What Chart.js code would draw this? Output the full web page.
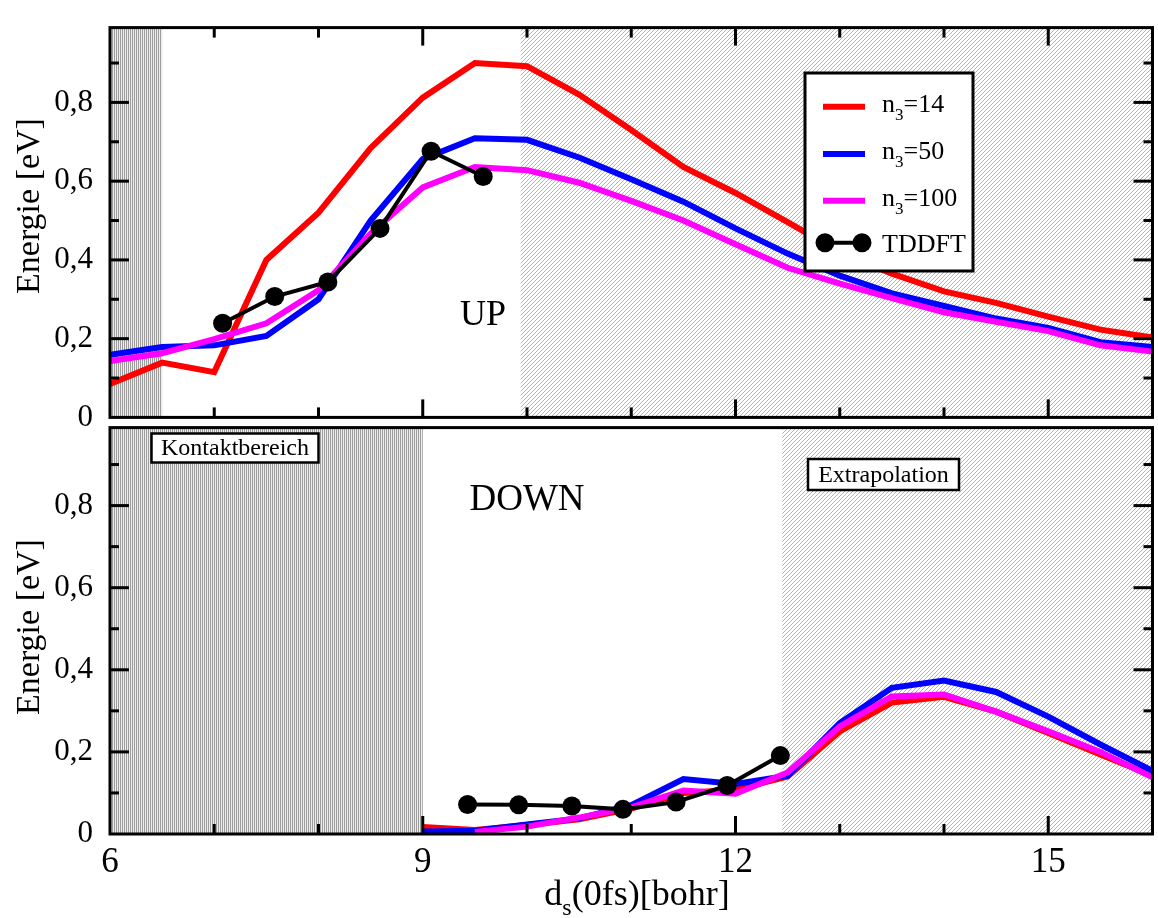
<!DOCTYPE html>
<html><head><meta charset="utf-8">
<script src="https://cdn.jsdelivr.net/npm/chart.js@4.4.1/dist/chart.umd.min.js"></script>
<style>
html,body{margin:0;padding:0;background:#fff;overflow:hidden;width:1158px;height:918px;}
#wrap{position:relative;width:1158px;height:918px;overflow:hidden;background:#fff;}
canvas{position:absolute;left:0;}
#c1{top:0;}
#c2{top:400px;}
#pre{position:absolute;left:-2000px;top:0;font-family:'Liberation Serif';font-size:30px;}
</style></head><body><div id="wrap"><canvas id="c1" width="1162" height="445"></canvas><canvas id="c2" width="1162" height="518"></canvas>
<span id="pre">Energie 0,8 Kontaktbereich</span></div>
<script>
// ---------- data ----------
const upX = [6,6.5,7,7.5,8,8.5,9,9.5,10,10.5,11,11.5,12,12.5,13,13.5,14,14.5,15,15.5,16];
const upN14  = [0.085,0.139,0.115,0.40,0.52,0.684,0.812,0.90,0.892,0.82,0.73,0.636,0.57,0.496,0.42,0.365,0.32,0.291,0.256,0.223,0.203];
const upN50  = [0.159,0.179,0.183,0.207,0.30,0.50,0.656,0.709,0.705,0.66,0.605,0.548,0.48,0.416,0.36,0.315,0.283,0.251,0.227,0.191,0.179];
const upN100 = [0.143,0.163,0.199,0.239,0.323,0.467,0.584,0.636,0.628,0.596,0.55,0.50,0.44,0.38,0.34,0.303,0.267,0.243,0.219,0.183,0.167];
const upTddftX = [7.08,7.58,8.09,8.59,9.08,9.58];
const upTddftY = [0.239,0.307,0.344,0.48,0.676,0.612];

const downX = [9,9.5,10,10.5,11,11.5,12,12.5,13,13.5,14,14.5,15,15.5,16];
const downN14  = [0.017,0.010,0.022,0.036,0.062,0.100,0.108,0.140,0.250,0.320,0.334,0.298,0.246,0.194,0.142];
const downN50  = [0.006,0.008,0.023,0.038,0.070,0.134,0.122,0.142,0.270,0.356,0.374,0.346,0.286,0.218,0.154];
const downN100 = [null,0.005,0.018,0.040,0.065,0.106,0.098,0.150,0.262,0.335,0.340,0.298,0.250,0.200,0.138];
const downTddftX = [9.43,9.92,10.43,10.92,11.43,11.92,12.43];
const downTddftY = [0.072,0.071,0.068,0.060,0.078,0.118,0.191];

const seriesNames = ['n3=14','n3=50','n3=100','TDDFT'];
const xTickLabels = ['6','9','12','15'];
const xTickValues = [6,9,12,15];
const yTickValues = [0,0.2,0.4,0.6,0.8];
const yTickLabels = ['0','0,2','0,4','0,6','0,8'];
const yTitle = 'Energie [eV]';
const upShadeVert = [6,6.5], upShadeDiag = [9.94,16];
const downShadeVert = [6,9], downShadeDiag = [12.45,16];

// ---------- helpers ----------
const SERIF = "'Liberation Serif'";
const pts = (xs, ys) => xs.map((x,i)=>({x, y: ys[i]}));

function vPattern(ctx){
  const c=document.createElement('canvas'); c.width=2; c.height=2;
  const g=c.getContext('2d'); g.fillStyle='#eeeeee'; g.fillRect(0,0,2,2);
  g.fillStyle='#9c9c9c'; g.fillRect(0,0,1,2);
  return ctx.createPattern(c,'repeat');
}
function dPattern(ctx){
  const c=document.createElement('canvas'); c.width=4; c.height=4;
  const g=c.getContext('2d'); g.fillStyle='#ffffff'; g.fillRect(0,0,4,4);
  g.fillStyle='#b4b4b4'; for(let i=0;i<4;i++) g.fillRect(i,3-i,1,1);
  return ctx.createPattern(c,'repeat');
}

function curve(data, color, order){
  return {data, borderColor:color, backgroundColor:color, borderWidth:6, pointRadius:0, pointHoverRadius:0,
          fill:false, tension:0, order, spanGaps:false, clip:0};
}
function tddft(data){
  return {data, borderColor:'#000', backgroundColor:'#000', borderWidth:4, pointRadius:9.5,
          pointBackgroundColor:'#000', pointBorderWidth:0, pointHoverRadius:9.5, fill:false, tension:0, order:1, clip:false};
}

const shadePlugin = {
  id:'shade',
  beforeDatasetsDraw(chart, args, opts){
    const {ctx, chartArea:a, scales:{x}} = chart;
    ctx.save();
    const fill=(r,p)=>{ const p0=Math.max(a.left,x.getPixelForValue(r[0])), p1=Math.min(a.right,x.getPixelForValue(r[1]));
      ctx.fillStyle=p; ctx.fillRect(p0,a.top,p1-p0,a.bottom-a.top); };
    fill(opts.vert, vPattern(ctx));
    fill(opts.diag, dPattern(ctx));
    ctx.restore();
  }
};

const framePlugin = {
  id:'frame',
  afterDraw(chart, args, opts){
    const {ctx, chartArea:a, scales:{x,y}} = chart;
    ctx.save();
    ctx.strokeStyle='#000'; ctx.lineWidth=3; ctx.lineCap='butt';
    const ln=(x0,y0,x1,y1)=>{ctx.beginPath();ctx.moveTo(x0,y0);ctx.lineTo(x1,y1);ctx.stroke();};
    for(let k=7;k<=15;k++){
      const px=x.getPixelForValue(k); const L=(k%3===0)?18:10;
      ln(px,a.bottom,px,a.bottom-L);
      if(opts.top) ln(px,a.top,px,a.top+L);
    }
    for(let k=1;k<=9;k++){
      const py=y.getPixelForValue(k/10); const L=(k%2===0)?19:9;
      ln(a.left,py,a.left+L,py); ln(a.right,py,a.right-L,py);
    }
    ctx.strokeRect(a.left,a.top,a.right-a.left,a.bottom-a.top);
    if (opts.titleY) {
      ctx.fillStyle='#000'; ctx.font='34px '+SERIF; ctx.textAlign='center'; ctx.textBaseline='middle';
      ctx.translate(30, opts.titleY); ctx.rotate(-Math.PI/2); ctx.fillText(yTitle,0,0);
    }
    ctx.restore();
  }
};

function subText(ctx, parts, x, y, align){
  let w=0; parts.forEach(p=>{ctx.font=p[1]+'px '+SERIF; w+=ctx.measureText(p[0]).width;});
  let cx = align==='center' ? x-w/2 : x;
  ctx.textAlign='left'; ctx.textBaseline='alphabetic';
  parts.forEach(p=>{ctx.font=p[1]+'px '+SERIF; ctx.fillText(p[0],cx,y+p[2]); cx+=ctx.measureText(p[0]).width;});
}

function boxLabel(ctx, text, left, top, w, h, size){
  ctx.fillStyle='#fff'; ctx.fillRect(left,top,w,h);
  ctx.strokeStyle='#000'; ctx.lineWidth=2.5; ctx.strokeRect(left,top,w,h);
  ctx.fillStyle='#000'; ctx.font=size+'px '+SERIF; ctx.textAlign='center'; ctx.textBaseline='middle';
  ctx.fillText(text,left+w/2,top+h/2+1);
}

const upTextPlugin = {
  id:'upText',
  afterDatasetsDraw(chart){
    const ctx=chart.ctx; ctx.save();
    ctx.fillStyle='#000'; ctx.font='36px '+SERIF; ctx.textAlign='center'; ctx.textBaseline='alphabetic';
    ctx.fillText('UP',483,325);
    const L=805,T=73,R=973,B=271;
    ctx.fillStyle='#fff'; ctx.fillRect(L,T,R-L,B-T);
    ctx.strokeStyle='#000'; ctx.lineWidth=3; ctx.strokeRect(L,T,R-L,B-T);
    const ds=chart.data.datasets;
    const rows=[106.7,154,200.7,242.7];
    for(let i=0;i<3;i++){
      ctx.strokeStyle=ds[i].borderColor; ctx.lineWidth=6; ctx.beginPath(); ctx.moveTo(823,rows[i]); ctx.lineTo(865,rows[i]); ctx.stroke();
      ctx.fillStyle='#000';
      const nm=seriesNames[i];
      subText(ctx,[['n',26,0],['3',17,8],[nm.slice(2),26,0]],882,rows[i]+5,'left');
    }
    ctx.strokeStyle='#000'; ctx.lineWidth=4; ctx.beginPath(); ctx.moveTo(825,rows[3]); ctx.lineTo(862,rows[3]); ctx.stroke();
    ctx.fillStyle='#000';
    [825,862].forEach(cx=>{ctx.beginPath();ctx.arc(cx,rows[3],9.5,0,Math.PI*2);ctx.fill();});
    ctx.font='26px '+SERIF; ctx.textAlign='left'; ctx.textBaseline='alphabetic';
    ctx.fillText(seriesNames[3],882,rows[3]+9);
    ctx.restore();
  }
};

const downTextPlugin = {
  id:'downText',
  afterDatasetsDraw(chart){
    const ctx=chart.ctx; const o=400; ctx.save();
    ctx.fillStyle='#000'; ctx.font='37px '+SERIF; ctx.textAlign='center'; ctx.textBaseline='alphabetic';
    ctx.fillText('DOWN',527,510-o);
    boxLabel(ctx,'Kontaktbereich',151.5,433.5-o,167,29,24);
    boxLabel(ctx,'Extrapolation',808,459-o,151,31,24);
    ctx.restore();
  },
  afterDraw(chart){
    const ctx=chart.ctx; const o=400; ctx.save(); ctx.fillStyle='#000';
    subText(ctx,[['d',36,0],['s',24,10],['(0fs)[bohr]',36,0]],637,905-o,'center');
    ctx.restore();
  }
};

function yAxis(){
  return {
    type:'linear', min:0, max:0.99,
    afterFit:s=>{s.width=110;},
    afterBuildTicks:s=>{s.ticks=yTickValues.map(v=>({value:v}));},
    ticks:{autoSkip:false, color:'#000', padding:9, font:{family:SERIF,size:31},
           callback:(v)=>{const i=yTickValues.findIndex(t=>Math.abs(t-v)<1e-9); return i>=0?yTickLabels[i]:'';}},
    grid:{display:false}, border:{display:false},
    title:{display:false}
  };
}

function draw(){
Chart.defaults.font.family = SERIF;

new Chart(document.getElementById('c1'), {
  type:'line',
  data:{datasets:[
    Object.assign(curve(pts(upX,upN14),'#ff0000',4),{label:seriesNames[0]}),
    Object.assign(curve(pts(upX,upN50),'#0000ff',3),{label:seriesNames[1]}),
    Object.assign(curve(pts(upX,upN100),'#ff00ff',2),{label:seriesNames[2]}),
    Object.assign(tddft(pts(upTddftX,upTddftY)),{label:seriesNames[3]})
  ]},
  options:{
    responsive:false, animation:false, devicePixelRatio:1,
    layout:{padding:{top:8,bottom:24,left:0,right:2}},
    plugins:{legend:{display:false}, tooltip:{enabled:false},
      shade:{vert:upShadeVert, diag:upShadeDiag}, frame:{top:true, titleY:206}},
    scales:{
      x:{type:'linear', min:6, max:16, display:false},
      y:yAxis()
    },
    events:[]
  },
  plugins:[shadePlugin, framePlugin, upTextPlugin]
});

new Chart(document.getElementById('c2'), {
  type:'line',
  data:{datasets:[
    Object.assign(curve(pts(downX,downN14),'#ff0000',4),{label:seriesNames[0]}),
    Object.assign(curve(pts(downX,downN50),'#0000ff',3),{label:seriesNames[1]}),
    Object.assign(curve(pts(downX,downN100),'#ff00ff',2),{label:seriesNames[2]}),
    Object.assign(tddft(pts(downTddftX,downTddftY)),{label:seriesNames[3]})
  ]},
  options:{
    responsive:false, animation:false, devicePixelRatio:1,
    layout:{padding:{top:21,bottom:0,left:0,right:2}},
    plugins:{legend:{display:false}, tooltip:{enabled:false},
      shade:{vert:downShadeVert, diag:downShadeDiag}, frame:{top:false, titleY:627-400}},
    scales:{
      x:{type:'linear', min:6, max:16,
         afterFit:s=>{s.height=84;},
         afterBuildTicks:s=>{s.ticks=xTickValues.map(v=>({value:v}));},
         ticks:{autoSkip:false, maxRotation:0, color:'#000', padding:0, font:{family:SERIF,size:35},
                callback:(v)=>{const i=xTickValues.indexOf(v); return i>=0?xTickLabels[i]:'';}},
         grid:{display:false}, border:{display:false}},
      y:yAxis()
    },
    events:[]
  },
  plugins:[shadePlugin, framePlugin, downTextPlugin]
});
}

document.body.offsetWidth;
if (document.fonts && document.fonts.load) {
  document.fonts.load("30px 'Liberation Serif'").then(draw, draw);
} else { draw(); }
</script>
</body></html>
